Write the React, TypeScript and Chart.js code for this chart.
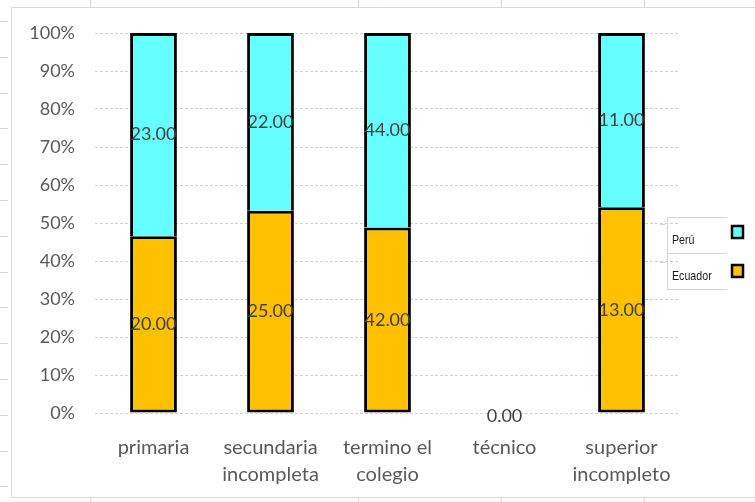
import React, { useEffect, useRef } from "react";
import { Chart, registerables } from "chart.js";

Chart.register(...registerables);

// Education level categories (multi-line labels)
const categories: string[][] = [
  ["primaria"],
  ["secundaria", "incompleta"],
  ["termino el", "colegio"],
  ["técnico"],
  ["superior", "incompleto"],
];

// Raw counts per country
const ecuadorValues = [20, 25, 42, 0, 13];
const peruValues = [23, 22, 44, 0, 11];

const seriesNames = ["Ecuador", "Perú"];
const seriesColors = ["#FFC000", "#66FFFF"];

const yTicks = [0, 10, 20, 30, 40, 50, 60, 70, 80, 90, 100];

const W = 755;
const H = 502;

function share(a: number, b: number): number {
  const t = a + b;
  return t === 0 ? 0 : (a / t) * 100;
}

const ecuadorPct = ecuadorValues.map((v, i) => share(v, peruValues[i]));
const peruPct = peruValues.map((v, i) => share(v, ecuadorValues[i]));
const rawSeries = [ecuadorValues, peruValues];

const TEXT_FONT = "Lato, 'Open Sans', sans-serif";

// Worksheet cells and the chart frame behind the plot
const sheetPlugin = {
  id: "sheet",
  beforeDraw(chart: any) {
    const ctx = chart.ctx as CanvasRenderingContext2D;
    ctx.save();
    ctx.fillStyle = "#ffffff";
    ctx.fillRect(0, 0, W, H);
    ctx.strokeStyle = "#d4d4d4";
    ctx.lineWidth = 1;
    // column separators peeking above and below the frame
    [90, 358, 501, 644].forEach((x) => {
      ctx.beginPath();
      ctx.moveTo(x + 0.5, 0);
      ctx.lineTo(x + 0.5, 8);
      ctx.moveTo(x + 0.5, 497);
      ctx.lineTo(x + 0.5, H);
      ctx.stroke();
    });
    // row separators to the left of the frame
    for (let y = 21; y < H; y += 35.8) {
      ctx.beginPath();
      ctx.moveTo(0, Math.round(y) + 0.5);
      ctx.lineTo(8, Math.round(y) + 0.5);
      ctx.stroke();
    }
    // chart frame
    ctx.strokeStyle = "#d9d9d9";
    ctx.beginPath();
    ctx.moveTo(W, 7.5);
    ctx.lineTo(11.5, 7.5);
    ctx.lineTo(11.5, 497.5);
    ctx.lineTo(W, 497.5);
    ctx.stroke();
    ctx.restore();
  },
};

// Raw value labels centred on each segment
const valueLabelPlugin = {
  id: "valueLabels",
  afterDatasetsDraw(chart: any) {
    const ctx = chart.ctx as CanvasRenderingContext2D;
    ctx.save();
    ctx.font = `18px ${TEXT_FONT}`;
    ctx.fillStyle = "#404040";
    ctx.textAlign = "center";
    ctx.textBaseline = "middle";
    chart.data.datasets.forEach((_: any, di: number) => {
      const meta = chart.getDatasetMeta(di);
      meta.data.forEach((bar: any, j: number) => {
        const raw = rawSeries[di][j];
        if (raw === 0 && di !== 0) return;
        const y = raw === 0 ? bar.base + 3 : (bar.y + bar.base) / 2;
        ctx.fillText(raw.toFixed(2), bar.x, y);
      });
    });
    ctx.restore();
  },
};

// Boxed legend on the right edge
const sideLegendPlugin = {
  id: "sideLegend",
  afterDraw(chart: any) {
    const ctx = chart.ctx as CanvasRenderingContext2D;
    ctx.save();
    ctx.strokeStyle = "#d4d4d4";
    ctx.lineWidth = 1;
    [217, 253, 289].forEach((y) => {
      ctx.beginPath();
      ctx.moveTo(667, y + 0.5);
      ctx.lineTo(727, y + 0.5);
      ctx.stroke();
    });
    ctx.beginPath();
    ctx.moveTo(667.5, 217);
    ctx.lineTo(667.5, 289);
    ctx.stroke();
    [224, 262].forEach((y) => {
      ctx.beginPath();
      ctx.moveTo(660, y + 0.5);
      ctx.lineTo(665, y + 0.5);
      ctx.stroke();
    });

    const entries = [
      { name: seriesNames[1], color: seriesColors[1], textY: 240, boxY: 226 },
      { name: seriesNames[0], color: seriesColors[0], textY: 276, boxY: 265 },
    ];
    ctx.textAlign = "left";
    ctx.textBaseline = "middle";
    entries.forEach((e) => {
      // condensed legend text
      ctx.save();
      ctx.translate(672, e.textY);
      ctx.scale(0.82, 1);
      ctx.font = "13px 'Liberation Sans', sans-serif";
      ctx.fillStyle = "#1a1a1a";
      ctx.fillText(e.name, 0, 0);
      ctx.restore();
      ctx.fillStyle = e.color;
      ctx.fillRect(732, e.boxY, 11, 12);
      ctx.strokeStyle = "#000000";
      ctx.lineWidth = 2.5;
      ctx.strokeRect(732, e.boxY, 11, 12);
    });
    ctx.restore();
  },
};

export default function App() {
  const canvasRef = useRef<HTMLCanvasElement | null>(null);

  useEffect(() => {
    document.body.style.margin = "0";
    const canvas = canvasRef.current;
    if (!canvas) return;
    const chart = new Chart(canvas, {
      type: "bar",
      data: {
        labels: categories,
        datasets: [
          {
            label: seriesNames[0],
            data: ecuadorPct,
            backgroundColor: seriesColors[0],
            borderColor: "#000000",
            borderWidth: 3,
            borderSkipped: false,
            barPercentage: 0.4,
            categoryPercentage: 1,
          },
          {
            label: seriesNames[1],
            data: peruPct,
            backgroundColor: seriesColors[1],
            borderColor: "#000000",
            borderWidth: { top: 3, left: 3, right: 3, bottom: 0 },
            borderSkipped: false,
            barPercentage: 0.4,
            categoryPercentage: 1,
          },
        ],
      },
      options: {
        responsive: false,
        animation: false,
        devicePixelRatio: 1,
        layout: { padding: { top: 33, right: 75, bottom: 0, left: 0 } },
        plugins: {
          legend: { display: false },
          tooltip: { enabled: false },
        },
        scales: {
          x: {
            stacked: true,
            grid: { display: false },
            border: { display: false },
            ticks: {
              color: "#595959",
              font: { family: TEXT_FONT, size: 20, lineHeight: 1.35 },
              padding: 13,
              maxRotation: 0,
            },
            afterFit(scale: any) {
              scale.height = 89;
            },
          },
          y: {
            stacked: true,
            min: 0,
            max: 100,
            afterBuildTicks(scale: any) {
              scale.ticks = yTicks.map((v) => ({ value: v }));
            },
            grid: { color: "#d0d0d0", drawTicks: false, lineWidth: 1 },
            border: { display: false, dash: [3, 2] },
            ticks: {
              color: "#595959",
              font: { family: TEXT_FONT, size: 18 },
              padding: 20,
              callback: (v: any) => `${v}%`,
            },
            afterFit(scale: any) {
              scale.width = 95;
            },
          },
        },
      },
      plugins: [sheetPlugin, valueLabelPlugin, sideLegendPlugin],
    });
    return () => chart.destroy();
  }, []);

  return (
    <div style={{ width: W, height: H, position: "relative" }}>
      <canvas ref={canvasRef} width={W} height={H} style={{ display: "block" }} />
    </div>
  );
}
